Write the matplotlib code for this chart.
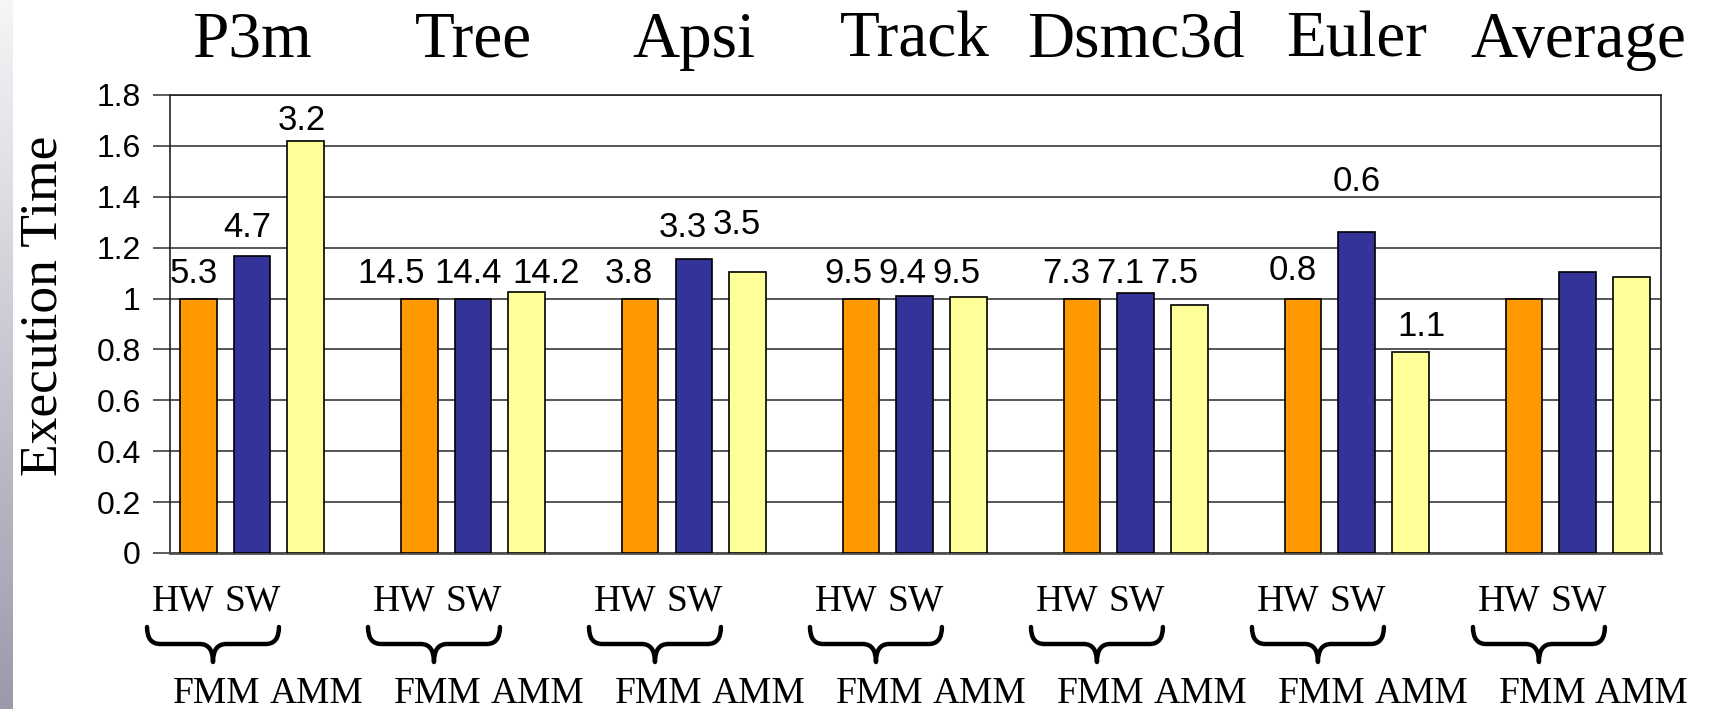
import numpy as np
import matplotlib
matplotlib.use('Agg')
import matplotlib.pyplot as plt
import matplotlib.transforms as mtransforms
from matplotlib.path import Path
from matplotlib.patches import PathPatch

# benchmarks and normalised execution times
benchmarks = ['P3m', 'Tree', 'Apsi', 'Track', 'Dsmc3d', 'Euler', 'Average']
hw_fmm = [1.0, 1.0, 1.0, 1.0, 1.0, 1.0, 1.0]
sw_fmm = [1.167, 1.0, 1.155, 1.012, 1.02, 1.263, 1.103]
amm = [1.62, 1.025, 1.105, 1.007, 0.976, 0.79, 1.085]

# numbers printed above the bars
hw_labels = ['5.3', '14.5', '3.8', '9.5', '7.3', '0.8', '']
sw_labels = ['4.7', '14.4', '3.3', '9.4', '7.1', '0.6', '']
amm_labels = ['3.2', '14.2', '3.5', '9.5', '7.5', '1.1', '']

# heights where those numbers were placed (hand placed in the original)
hw_label_y = [1.10, 1.10, 1.10, 1.10, 1.10, 1.11, 0]
sw_label_y = [1.28, 1.10, 1.28, 1.10, 1.10, 1.46, 0]
amm_label_y = [1.70, 1.10, 1.29, 1.10, 1.10, 0.89, 0]
# horizontal spread / shift of the label row in each group
label_spread = [0.244, 0.35, 0.244, 0.244, 0.244, 0.29, 0.244]
label_shift = [-0.02, -0.02, -0.05, -0.055, -0.07, 0.0, 0.0]

yticks = [0, 0.2, 0.4, 0.6, 0.8, 1, 1.2, 1.4, 1.6, 1.8]
ytick_labels = ['0', '0.2', '0.4', '0.6', '0.8', '1', '1.2', '1.4', '1.6', '1.8']

COLORS = ['#FF9900', '#333399', '#FFFF99']
SERIF = 'Liberation Serif'
SANS = 'Liberation Sans'

fig = plt.figure(figsize=(17.16, 7.09), dpi=100)
fig.patch.set_facecolor('white')

# grey gradient strip on the left edge of the slide
strip = fig.add_axes([0, 0, 13 / 1716, 1])
grad = np.linspace(0, 1, 256).reshape(-1, 1)
strip.imshow(grad, aspect='auto', cmap=matplotlib.colors.LinearSegmentedColormap.from_list(
    'strip', ['#f6f6f8', '#9a9aab']), extent=[0, 1, 0, 1], origin='upper')
strip.axis('off')

ax = fig.add_axes([170 / 1716, 156 / 709, 1491 / 1716, 458 / 709])

x = np.arange(len(benchmarks))
width = 0.167
step = 0.244

for i, (vals, col) in enumerate(zip([hw_fmm, sw_fmm, amm], COLORS)):
    ax.bar(x + (i - 1) * step, vals, width, color=col, edgecolor='black',
           linewidth=1.2, zorder=3)

# value labels
for i, (labels, ly) in enumerate([(hw_labels, hw_label_y),
                                  (sw_labels, sw_label_y),
                                  (amm_labels, amm_label_y)]):
    for j, (lab, yy) in enumerate(zip(labels, ly)):
        if lab:
            lx = x[j] + (i - 1) * label_spread[j] + label_shift[j]
            ax.text(lx, yy, lab, ha='center', va='center',
                    fontsize=25, family=SANS, zorder=4)

ax.set_xlim(-0.371, len(benchmarks) - 1 + 0.376)
ax.set_ylim(0, 1.8)
ax.set_yticks(yticks)
ax.set_yticklabels(ytick_labels, fontsize=23, family=SANS)
ax.set_xticks([])
ax.tick_params(axis='y', length=12, width=1.2, color='#404040', pad=9)
ax.yaxis.grid(True, color='#3a3a3a', linewidth=1.2, zorder=0)
ax.set_axisbelow(True)
for side in ['left', 'right', 'top']:
    ax.spines[side].set_color('#222222')
    ax.spines[side].set_linewidth(1.2)
ax.spines['bottom'].set_color('#505050')
ax.spines['bottom'].set_linewidth(2)

trans = mtransforms.blended_transform_factory(ax.transData, fig.transFigure)

# benchmark names across the top
for j, name in enumerate(benchmarks):
    ax.text(x[j], 0.920, name, transform=trans, ha='center', va='baseline',
            fontsize=47, family=SERIF, clip_on=False)

fig.text(44 / 1716, 1 - 306 / 709, 'Execution Time', rotation=90, ha='center',
         va='center', fontsize=38.5, family=SERIF)

# HW / SW labels, brace, FMM / AMM labels under every group
y_top, y_mid, y_tip = 1 - 627 / 709, 1 - 644 / 709, 1 - 662 / 709
r = 0.06
for j in range(len(benchmarks)):
    c = x[j]
    ax.text(c - 0.31, 1 - 601 / 709, 'HW', transform=trans, ha='center', va='center',
            fontsize=27, family=SERIF, clip_on=False)
    ax.text(c + 0.005, 1 - 601 / 709, 'SW', transform=trans, ha='center', va='center',
            fontsize=27, family=SERIF, clip_on=False)
    ax.text(c - 0.16, 1 - 694 / 709, 'FMM', transform=trans, ha='center', va='center',
            fontsize=27, family=SERIF, clip_on=False)
    ax.text(c + 0.29, 1 - 694 / 709, 'AMM', transform=trans, ha='center', va='center',
            fontsize=27, family=SERIF, clip_on=False)

    x0, x1 = c - 0.475, c + 0.122
    xm = (x0 + x1) / 2
    verts = [(x0, y_top), (x0, y_mid), (x0 + r, y_mid),
             (xm - r, y_mid), (xm, y_mid), (xm, y_tip),
             (xm, y_mid), (xm + r, y_mid),
             (x1 - r, y_mid), (x1, y_mid), (x1, y_top)]
    codes = [Path.MOVETO, Path.CURVE3, Path.CURVE3,
             Path.LINETO, Path.CURVE3, Path.CURVE3,
             Path.CURVE3, Path.CURVE3,
             Path.LINETO, Path.CURVE3, Path.CURVE3]
    brace = PathPatch(Path(verts, codes), transform=trans, facecolor='none',
                      edgecolor='black', linewidth=3.2, capstyle='round',
                      joinstyle='round', clip_on=False)
    ax.add_patch(brace)

fig.savefig('out.png', dpi=100, facecolor='white')
